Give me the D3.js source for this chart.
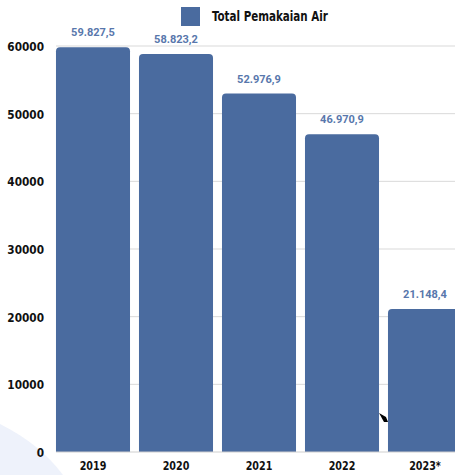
<!DOCTYPE html>
<html><head><meta charset="utf-8">
<script src="https://cdn.jsdelivr.net/npm/d3@7"></script>
<style>
html,body{margin:0;padding:0;background:#fff;overflow:hidden;}
svg{display:block;}
</style></head>
<body>
<svg id="chart" width="455" height="475"></svg>
<script>
const categories = ["2019", "2020", "2021", "2022", "2023*"];
const values = [59827.5, 58823.2, 52976.9, 46970.9, 21148.4];
const valueLabels = ["59.827,5", "58.823,2", "52.976,9", "46.970,9", "21.148,4"];
const yTicks = [0, 10000, 20000, 30000, 40000, 50000, 60000];
const seriesName = "Total Pemakaian Air";

const svg = d3.select("#chart");
const W = 455, H = 475;
const barColor = "#4a6b9f";
const condFont = "'DejaVu Sans Condensed','Liberation Sans Narrow',sans-serif";

function squeeze(sel, f) {
  sel.each(function () {
    const L = this.getComputedTextLength();
    d3.select(this).attr("textLength", L * f).attr("lengthAdjust", "spacingAndGlyphs");
  });
}

// faint background shape
svg.append("path")
  .attr("d", "M0,424 Q40,444 63,475 L0,475 Z")
  .attr("fill", "#eef2fb");

const x = d3.scaleBand().domain(categories).range([51.5, 466.5]).paddingInner(0.108).paddingOuter(0.054);
const y = d3.scaleLinear().domain([0, 60000]).range([452, 46]);

// gridlines
svg.append("g").selectAll("line").data(yTicks.filter(d => d > 0)).join("line")
  .attr("x1", 56).attr("x2", W)
  .attr("y1", d => y(d)).attr("y2", d => y(d))
  .attr("stroke", "#d9d9d9").attr("stroke-width", 1);

// y axis labels
const yAxis = d3.axisLeft(y).tickValues(yTicks).tickSize(0).tickPadding(0).tickFormat(d3.format("d"));
const gy = svg.append("g").attr("transform", "translate(44,0)").call(yAxis);
gy.select(".domain").remove();
gy.selectAll("text")
  .attr("font-family", condFont).attr("font-weight", "bold").attr("font-size", 13)
  .attr("fill", "#111").attr("dy", "0.35em");
squeeze(gy.selectAll("text"), 0.9);

// bars with rounded top
const r = 4;
svg.append("g").selectAll("path").data(values).join("path")
  .attr("fill", barColor)
  .attr("d", (d, i) => {
    const x0 = x(categories[i]), w = x.bandwidth(), y0 = y(d), yb = y(0);
    return `M${x0},${yb}V${y0 + r}Q${x0},${y0} ${x0 + r},${y0}H${x0 + w - r}Q${x0 + w},${y0} ${x0 + w},${y0 + r}V${yb}Z`;
  });

// baseline
svg.append("line").attr("x1", 56).attr("x2", W).attr("y1", y(0)).attr("y2", y(0))
  .attr("stroke", "#cfcfcf").attr("stroke-width", 1);

// value labels
svg.append("g").selectAll("text").data(values).join("text")
  .attr("x", (d, i) => x(categories[i]) + x.bandwidth() / 2)
  .attr("y", d => y(d) - 11)
  .attr("text-anchor", "middle")
  .attr("font-family", "Roboto, sans-serif").attr("font-weight", "bold").attr("font-size", 11)
  .attr("fill", "#5877ac")
  .text((d, i) => valueLabels[i]);

// x axis labels
const xAxis = d3.axisBottom(x).tickSize(0).tickPadding(0);
const gx = svg.append("g").attr("transform", `translate(0,${y(0)})`).call(xAxis);
gx.select(".domain").remove();
gx.selectAll("text")
  .attr("font-family", condFont).attr("font-weight", "bold").attr("font-size", 13)
  .attr("fill", "#111").attr("dy", "0").attr("y", 18);
squeeze(gx.selectAll("text"), 0.82);

// legend
svg.append("rect").attr("x", 181).attr("y", 7).attr("width", 19).attr("height", 19).attr("fill", barColor);
const lt = svg.append("text").attr("x", 212).attr("y", 21)
  .attr("font-family", condFont).attr("font-weight", "bold").attr("font-size", 14)
  .attr("fill", "#111").text(seriesName);
squeeze(lt, 0.82);

// cursor artifact
svg.append("path").attr("d", "M379,413 L386,417 L388,422 L384,422 Z").attr("fill", "#000");
</script>
</body></html>
